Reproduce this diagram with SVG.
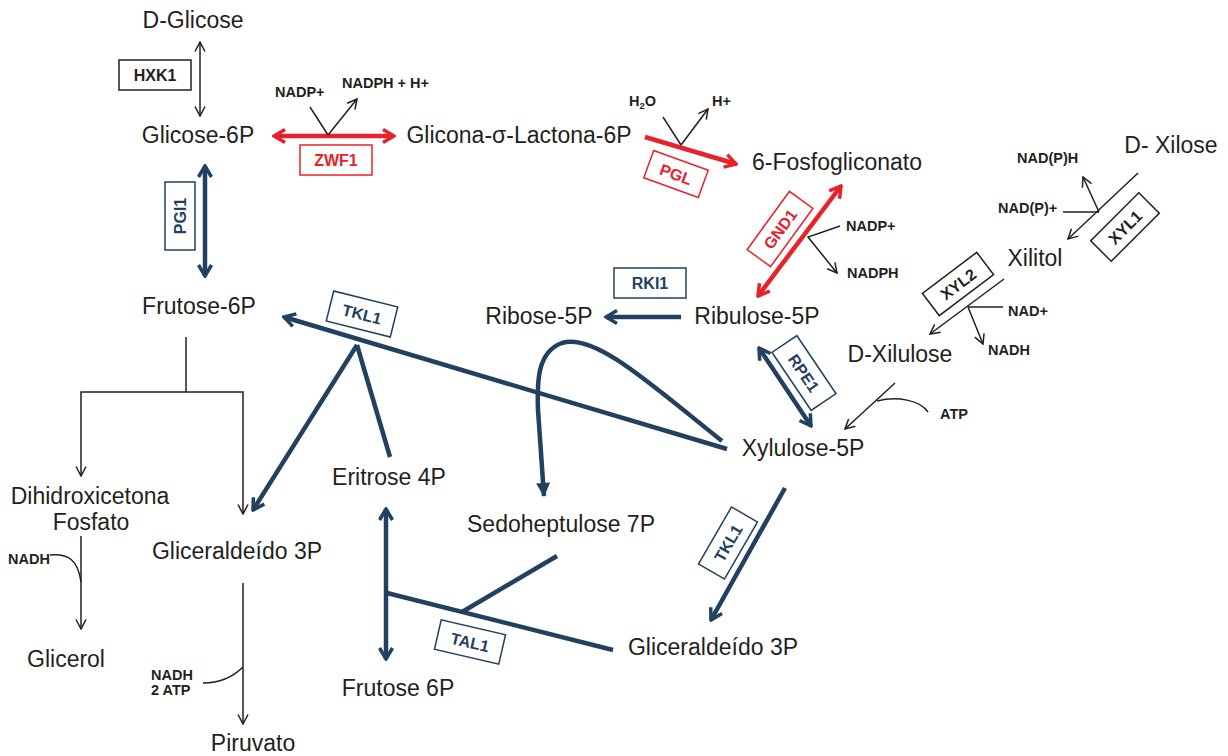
<svg xmlns="http://www.w3.org/2000/svg" width="1228" height="756" viewBox="0 0 1228 756">
<style>
.t{font-family:"Liberation Sans",Arial,sans-serif;font-size:23px;fill:#231f20;text-anchor:middle}
.s{font-family:"Liberation Sans",Arial,sans-serif;font-size:14.5px;font-weight:bold;fill:#231f20}
.bl{font-family:"Liberation Sans",Arial,sans-serif;font-size:16px;font-weight:bold;text-anchor:middle}
.bk{fill:#fff;stroke:#231f20;stroke-width:1.5}
.bkt{fill:#231f20}
.br{fill:#fff;stroke:#e8212a;stroke-width:1.5}
.brt{fill:#e8212a}
.bn{fill:#fff;stroke:#22405f;stroke-width:1.5}
.bnt{fill:#22405f}
.k{fill:none;stroke:#231f20;stroke-width:1.5}
.r{fill:none;stroke:#e8212a;stroke-width:4.5}
.n{fill:none;stroke:#22405f;stroke-width:4.5}
</style>
<defs>
<marker id="ak" viewBox="0 0 12 12" refX="11" refY="6" markerWidth="12" markerHeight="12" markerUnits="userSpaceOnUse" orient="auto-start-reverse"><path d="M1.5,1 L11,6 L1.5,11" fill="none" stroke="#231f20" stroke-width="1.5"/></marker>
<marker id="ar" viewBox="0 0 16 16" refX="14" refY="8" markerWidth="16" markerHeight="16" markerUnits="userSpaceOnUse" orient="auto-start-reverse"><path d="M3,1.5 L14,8 L3,14.5" fill="none" stroke="#e8212a" stroke-width="3.5"/></marker>
<marker id="an" viewBox="0 0 16 16" refX="14" refY="8" markerWidth="16" markerHeight="16" markerUnits="userSpaceOnUse" orient="auto-start-reverse"><path d="M3,1.5 L14,8 L3,14.5" fill="none" stroke="#22405f" stroke-width="3.5"/></marker>
<marker id="anf" viewBox="0 0 16 16" refX="14" refY="8" markerWidth="16" markerHeight="16" markerUnits="userSpaceOnUse" orient="auto"><path d="M1,1 L15,8 L1,15 z" fill="#22405f"/></marker>
</defs>
<rect width="1228" height="756" fill="#fff"/>

<g id="connectors">
<line class="k" x1="200" y1="42" x2="200" y2="116" marker-start="url(#ak)" marker-end="url(#ak)"/>
<line class="r" x1="274" y1="136" x2="394" y2="136" marker-start="url(#ar)" marker-end="url(#ar)"/>
<line class="k" x1="310" y1="107" x2="328" y2="135"/>
<line class="k" x1="328" y1="135" x2="357" y2="99" marker-end="url(#ak)"/>
<line class="r" x1="645" y1="137" x2="736" y2="164" marker-end="url(#ar)"/>
<line class="k" x1="663" y1="117" x2="681" y2="145"/>
<line class="k" x1="681" y1="145" x2="708" y2="109" marker-end="url(#ak)"/>
<line class="r" x1="841" y1="186" x2="758" y2="296" marker-start="url(#ar)" marker-end="url(#ar)"/>
<polyline class="k" points="840,226 808,237 837,273" marker-end="url(#ak)"/>
<line class="n" x1="681" y1="317" x2="606" y2="317" marker-end="url(#an)"/>
<line class="n" x1="759" y1="348" x2="811" y2="426" marker-start="url(#an)" marker-end="url(#an)"/>
<line class="n" x1="205" y1="166" x2="205" y2="276" marker-start="url(#an)" marker-end="url(#an)"/>
<line class="n" x1="727" y1="449" x2="284" y2="317" marker-end="url(#an)"/>
<line class="n" x1="357" y1="345" x2="253" y2="510" marker-end="url(#an)"/>
<line class="n" x1="357" y1="345" x2="390" y2="457"/>
<path class="n" d="M722,441 C655,388 595,332 562,343 C537,352 537,382 538,410 L544,496" marker-end="url(#anf)"/>
<line class="n" x1="386" y1="509" x2="386" y2="659" marker-start="url(#an)" marker-end="url(#an)"/>
<line class="n" x1="387" y1="593" x2="613" y2="650"/>
<line class="n" x1="557" y1="556" x2="462" y2="612"/>
<line class="n" x1="785" y1="488" x2="711" y2="620" marker-end="url(#an)"/>
<line class="k" x1="895" y1="383" x2="845" y2="429" marker-end="url(#ak)"/>
<path class="k" d="M877,401 C897,396 920,400 928,412"/>
<line class="k" x1="1138" y1="173" x2="1068" y2="239" marker-end="url(#ak)"/>
<line class="k" x1="1063" y1="212" x2="1099" y2="212"/>
<line class="k" x1="1099" y1="212" x2="1083" y2="177" marker-end="url(#ak)"/>
<line class="k" x1="1004" y1="279" x2="930" y2="334" marker-end="url(#ak)"/>
<line class="k" x1="968" y1="307" x2="1003" y2="307"/>
<line class="k" x1="968" y1="307" x2="983" y2="344" marker-end="url(#ak)"/>
<line class="k" x1="186" y1="337" x2="186" y2="392"/>
<path class="k" d="M81,476 V392 H243 V514" marker-start="url(#ak)" marker-end="url(#ak)"/>
<line class="k" x1="81" y1="536" x2="81" y2="629" marker-end="url(#ak)"/>
<path class="k" d="M50,555 C68,553 78,560 81,582"/>
<line class="k" x1="243" y1="583" x2="243" y2="724" marker-end="url(#ak)"/>
<path class="k" d="M203,683 C222,683 235,675 243,667"/>
</g>

<g id="n-dglicose"><text class="t" x="193" y="28">D-Glicose</text></g>
<g id="n-glicose6p"><text class="t" x="198" y="143">Glicose-6P</text></g>
<g id="n-gliconalactona"><text class="t" x="519" y="143">Glicona-σ-Lactona-6P</text></g>
<g id="n-6fosfogliconato"><text class="t" x="837" y="170">6-Fosfogliconato</text></g>
<g id="n-dxilose"><text class="t" x="1171" y="153">D- Xilose</text></g>
<g id="n-xilitol"><text class="t" x="1035" y="266">Xilitol</text></g>
<g id="n-dxilulose"><text class="t" x="900" y="362">D-Xilulose</text></g>
<g id="n-frutose6p"><text class="t" x="199" y="314">Frutose-6P</text></g>
<g id="n-ribose5p"><text class="t" x="539" y="324">Ribose-5P</text></g>
<g id="n-ribulose5p"><text class="t" x="757" y="324">Ribulose-5P</text></g>
<g id="n-xylulose5p"><text class="t" x="803" y="456">Xylulose-5P</text></g>
<g id="n-eritrose4p"><text class="t" x="389" y="485">Eritrose 4P</text></g>
<g id="n-sedoheptulose"><text class="t" x="561" y="532">Sedoheptulose 7P</text></g>
<g id="n-dhap"><text class="t" x="90" y="504">Dihidroxicetona</text><text class="t" x="91" y="530">Fosfato</text></g>
<g id="n-g3p-left"><text class="t" x="237" y="559">Gliceraldeído 3P</text></g>
<g id="n-g3p-right"><text class="t" x="713" y="655">Gliceraldeído 3P</text></g>
<g id="n-glicerol"><text class="t" x="66" y="667">Glicerol</text></g>
<g id="n-frutose6p-b"><text class="t" x="398" y="696">Frutose 6P</text></g>
<g id="n-piruvato"><text class="t" x="253" y="751">Piruvato</text></g>

<g id="cofactors">
<text class="s" x="275" y="97">NADP+</text>
<text class="s" x="342" y="88">NADPH + H+</text>
<text class="s" x="629" y="106">H<tspan font-size="9.5" dy="3">2</tspan><tspan dy="-3">O</tspan></text>
<text class="s" x="712" y="106">H+</text>
<text class="s" x="846" y="231">NADP+</text>
<text class="s" x="847" y="278">NADPH</text>
<text class="s" x="1017" y="163">NAD(P)H</text>
<text class="s" x="998" y="213">NAD(P)+</text>
<text class="s" x="1008" y="316">NAD+</text>
<text class="s" x="988" y="355">NADH</text>
<text class="s" x="940" y="419">ATP</text>
<text class="s" x="8" y="564">NADH</text>
<text class="s" x="151" y="680">NADH</text>
<text class="s" x="151" y="695">2 ATP</text>
</g>

<g id="e-hxk1"><rect class="bk" x="119" y="60" width="72" height="30"/><text class="bl bkt" x="155" y="81">HXK1</text></g>
<g id="e-zwf1"><rect class="br" x="300" y="145" width="72" height="30"/><text class="bl brt" x="336" y="166">ZWF1</text></g>
<g id="e-pgl" transform="translate(676,174) rotate(20)"><rect class="br" x="-29" y="-14.5" width="58" height="29"/><text class="bl brt" x="0" y="6">PGL</text></g>
<g id="e-gnd1" transform="translate(780,229) rotate(-54)"><rect class="br" x="-36" y="-14.5" width="72" height="29"/><text class="bl brt" x="0" y="6">GND1</text></g>
<g id="e-rki1"><rect class="bn" x="614" y="268" width="72" height="30"/><text class="bl bnt" x="650" y="289">RKI1</text></g>
<g id="e-rpe1" transform="translate(804,373) rotate(56)"><rect class="bn" x="-35" y="-15" width="70" height="30"/><text class="bl bnt" x="0" y="6">RPE1</text></g>
<g id="e-xyl1" transform="translate(1125,227) rotate(-45)"><rect class="bk" x="-34" y="-14.5" width="68" height="29"/><text class="bl bkt" x="0" y="6">XYL1</text></g>
<g id="e-xyl2" transform="translate(958,284) rotate(-37)"><rect class="bk" x="-34" y="-14" width="68" height="28"/><text class="bl bkt" x="0" y="6">XYL2</text></g>
<g id="e-pgi1"><rect class="bn" x="165" y="182" width="30" height="68"/><text class="bl bnt" transform="translate(186,216) rotate(-90)" x="0" y="0">PGI1</text></g>
<g id="e-tkl1-top" transform="translate(362,314) rotate(14)"><rect class="bn" x="-33" y="-15.5" width="66" height="31"/><text class="bl bnt" x="0" y="6">TKL1</text></g>
<g id="e-tal1" transform="translate(470,642) rotate(13)"><rect class="bn" x="-33" y="-15" width="66" height="30"/><text class="bl bnt" x="0" y="6">TAL1</text></g>
<g id="e-tkl1-bottom" transform="translate(728,543) rotate(-60)"><rect class="bn" x="-33" y="-15" width="66" height="30"/><text class="bl bnt" x="0" y="6">TKL1</text></g>
</svg>
